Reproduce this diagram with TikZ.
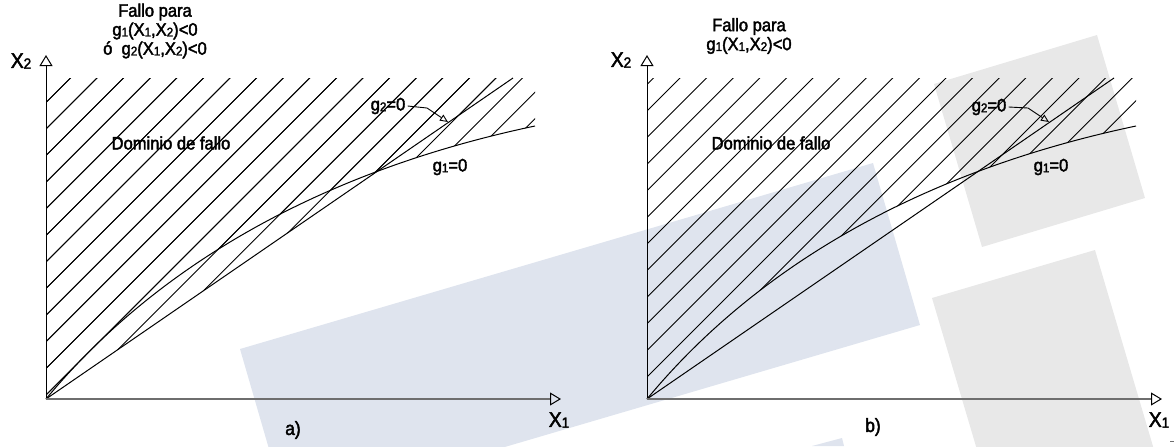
\documentclass[tikz,border=0pt]{standalone}
\usepackage{fontspec}
\setmainfont{Liberation Sans}[FakeBold=2.2,FakeStretch=0.92]
\usetikzlibrary{arrows.meta}
\definecolor{markblue}{RGB}{223,228,238}
\definecolor{markgrey}{RGB}{232,232,232}
\definecolor{axisgrey}{RGB}{110,110,110}
\newcommand{\idx}[1]{\raisebox{-0.4pt}{\scalebox{0.7}{#1}}}
\tikzset{
  xaxis/.style={draw=axisgrey,line width=1pt,-{Triangle[open,length=5.5pt,width=6.5pt,line width=0.5pt,color=black]}},
  yaxis/.style={draw=black,line width=0.5pt,-{Triangle[open,length=5.5pt,width=6.5pt,line width=0.5pt]}},
  hatch/.style={draw=black,line width=0.45pt},
  curve/.style={draw=black,line width=0.5pt},
  ptr/.style={draw=black,line width=0.45pt,-{Triangle[open,length=4pt,width=3.5pt]}},
  lbl/.style={inner sep=1pt,align=center,font=\fontsize{9}{9.5}\selectfont},
  axlbl/.style={inner sep=0pt,font=\fontsize{10.5}{12}\selectfont},
  tag/.style={inner sep=0pt,font=\fontsize{9.5}{11}\selectfont}
}
\begin{document}
\begin{tikzpicture}[x=0.5pt,y=-0.5pt]
  \clip (0,0) rectangle (1175,446);
  % watermark patches
  \fill[markblue] (240,349) -- (873,163) -- (920,325) -- (287,511) -- cycle;
  \fill[markblue] (812,446) -- (842,438) -- (844,446) -- cycle;
  \fill[markgrey] (934,84) -- (1097,35) -- (1145,198) -- (982,247) -- cycle;
  \fill[markgrey] (932,298) -- (1095,250) -- (1160,470) -- (983,470) -- cycle;
  \draw[axisgrey,line width=0.5pt] (1170,441) -- (1174,441);

  % a) g1<0 or g2<0
  \coordinate (oa) at (46,399);
  \coordinate (xa) at (561,399);
  \coordinate (ya) at (46,55);
  \coordinate (g2ta) at (513,78);
  \coordinate (g1ea) at (535,126);
  \begin{scope}
    \clip (oa) -- (g2ta) -- (46,78) -- cycle;
    \foreach \k in {-2,...,30}
      \draw[hatch] ({175+26.6*\k-450},450) -- ({175+26.6*\k-50},50);
  \end{scope}
  \begin{scope}
    \clip (oa) .. controls (166,254) and (340,167) .. (g1ea) -- (535,78) -- (46,78) -- cycle;
    \foreach \k in {-2,...,30}
      \draw[hatch] ({175+26.6*\k-450},450) -- ({175+26.6*\k-50},50);
  \end{scope}
  \draw[curve] (oa) -- (g2ta);
  \draw[curve] (oa) .. controls (166,254) and (340,167) .. (g1ea);
  \draw[yaxis] (oa) -- (ya);
  \draw[xaxis] (oa) -- (xa);
  \node[axlbl] (x2a) at (21,61) {X\idx{2}};
  \node[axlbl] (x1a) at (559,420) {X\idx{1}};
  \node[lbl] (faila) at (155,31) {Fallo para\\g\idx{1}(X\idx{1},X\idx{2})<0\\ó\ \ g\idx{2}(X\idx{1},X\idx{2})<0};
  \node[lbl] (doma) at (171,143) {Dominio de fallo};
  \node[lbl] (g2a) at (388,106) {g\idx{2}=0};
  \node[lbl] (g1a) at (450,167) {g\idx{1}=0};
  \coordinate (g2ka) at (427,108);
  \coordinate (g2pa) at (448,122);
  \draw[ptr] (g2a.east) -- (g2ka) -- (g2pa);
  \node[tag] (taga) at (293,430) {a)};

  % b) g1<0 only
  \begin{scope}[shift={(601,0)}]
    \coordinate (ob) at (46,399);
    \coordinate (xb) at (561,399);
    \coordinate (yb) at (46,55);
    \coordinate (g2tb) at (513,78);
    \coordinate (g1eb) at (535,126);
    \begin{scope}
      \clip (ob) .. controls (166,254) and (340,167) .. (g1eb) -- (535,78) -- (46,78) -- cycle;
      \foreach \k in {-2,...,30}
        \draw[hatch] ({157+26.6*\k-450},450) -- ({157+26.6*\k-50},50);
    \end{scope}
    \draw[curve] (ob) -- (g2tb);
    \draw[curve] (ob) .. controls (166,254) and (340,167) .. (g1eb);
    \draw[yaxis] (ob) -- (yb);
    \draw[xaxis] (ob) -- (xb);
    \node[axlbl] (x2b) at (20,60) {X\idx{2}};
    \node[axlbl] (x1b) at (558,420) {X\idx{1}};
    \node[lbl] (failb) at (148,36) {Fallo para\\g\idx{1}(X\idx{1},X\idx{2})<0};
    \node[lbl] (domb) at (170,143) {Dominio de fallo};
    \node[lbl] (g2b) at (388,107) {g\idx{2}=0};
    \node[lbl] (g1b) at (450,167) {g\idx{1}=0};
    \coordinate (g2kb) at (427,108);
    \coordinate (g2pb) at (448,122);
    \draw[ptr] (g2b.east) -- (g2kb) -- (g2pb);
    \node[tag] (tagb) at (272,427) {b)};
  \end{scope}
\end{tikzpicture}
\end{document}
